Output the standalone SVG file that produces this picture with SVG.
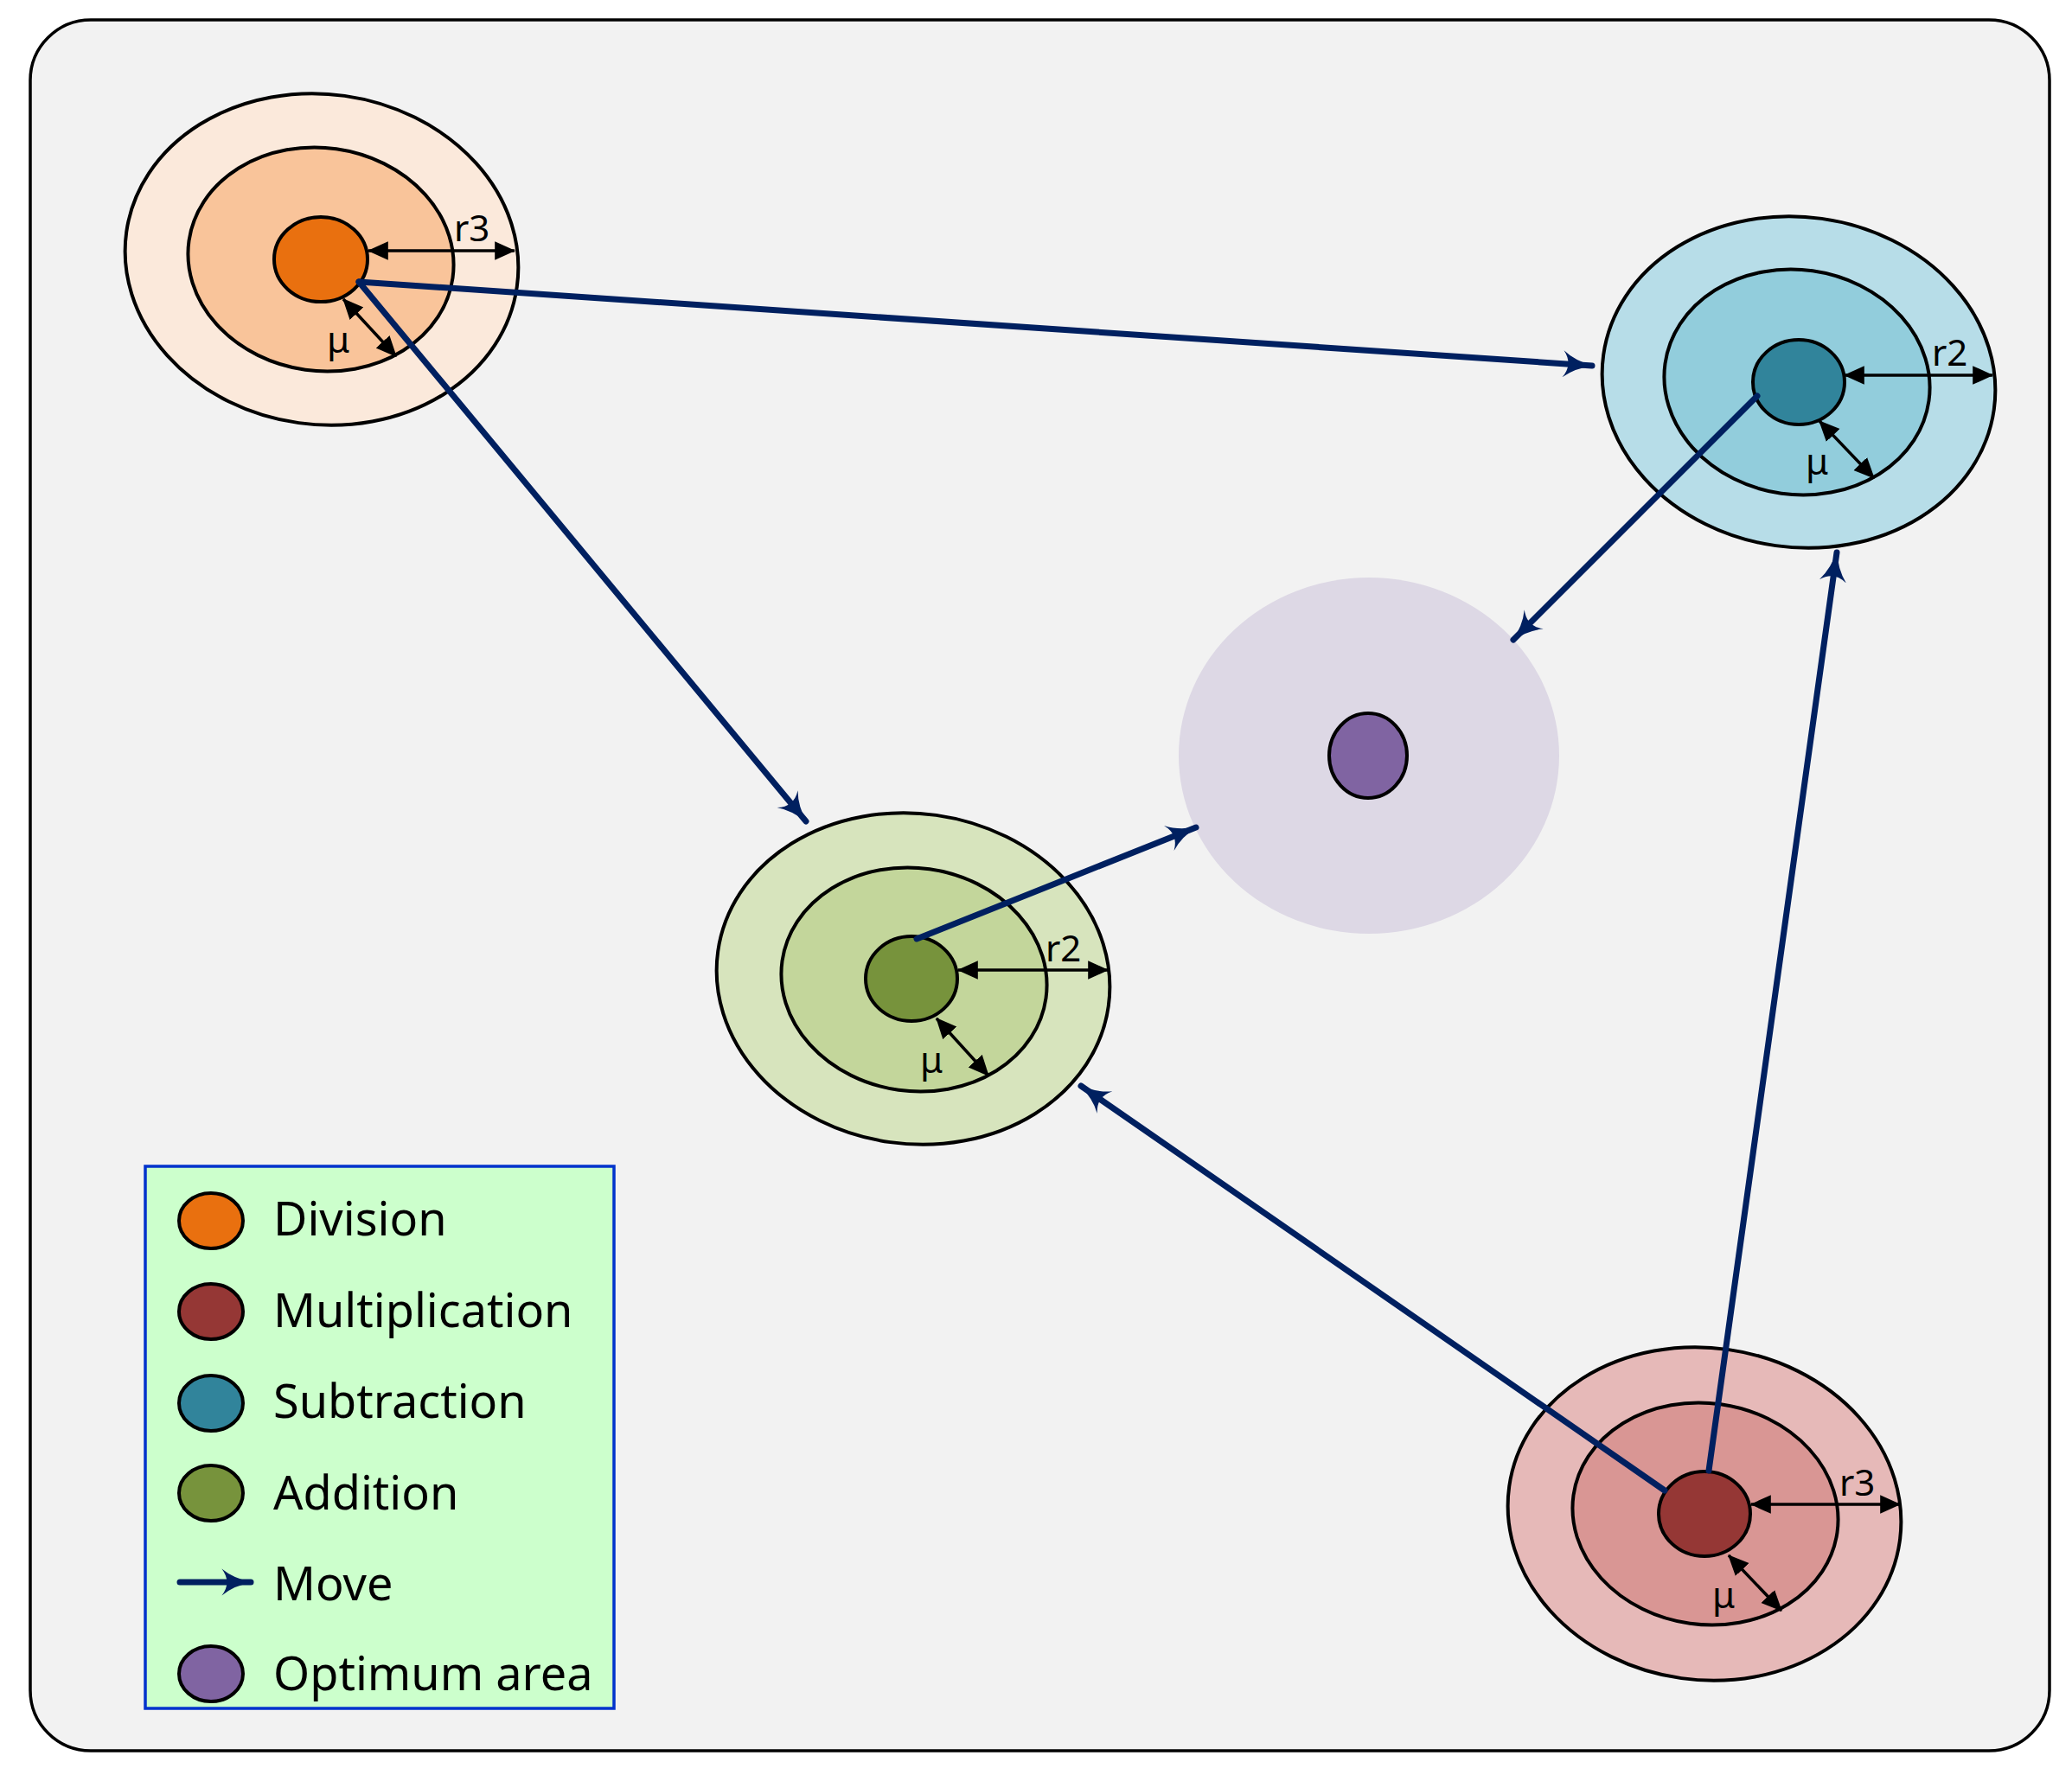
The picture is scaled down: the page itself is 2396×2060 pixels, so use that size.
<svg xmlns="http://www.w3.org/2000/svg" width="2396" height="2060" viewBox="0 0 2396 2060">
<style>
.ln{stroke:#000;stroke-width:4}
.dim{stroke:#000;stroke-width:3.5;fill:none;marker-start:url(#ah);marker-end:url(#ah)}
.mv{stroke:#002060;stroke-width:7;fill:none;marker-end:url(#stealth);stroke-linecap:round}
.lab{font-family:"Noto Sans","Open Sans",sans-serif;font-size:42px;fill:#000}
.leg{font-family:"Noto Sans","Open Sans",sans-serif;font-size:54px;fill:#000}
</style>
<defs>
<marker id="ah" markerUnits="userSpaceOnUse" markerWidth="24" markerHeight="24" viewBox="0 0 20 20" refX="19" refY="10" orient="auto-start-reverse"><path d="M0,1 L20,10 L0,19 Z" fill="#000"/></marker>
<marker id="stealth" markerUnits="userSpaceOnUse" markerWidth="36" markerHeight="36" viewBox="0 0 30 30" refX="28" refY="15" orient="auto"><path d="M0,2 Q10,15 0,28 Q12,18 30,15 Q12,12 0,2 Z" fill="#002060"/></marker>
</defs>
<rect x="35" y="23" width="2335" height="2002" rx="70" fill="#f2f2f2" stroke="#000" stroke-width="3.5"/>

<g id="optimum">
<ellipse cx="1583" cy="874" rx="220" ry="206" fill="#ddd8e5"/>
<ellipse cx="1582" cy="874" rx="45" ry="49" fill="#8064a2" class="ln"/>
</g>

<g id="division">
<ellipse cx="372" cy="300" rx="228" ry="191" transform="rotate(8 372 300)" fill="#fbe9db" class="ln"/>
<ellipse cx="371" cy="300" rx="154" ry="129" transform="rotate(8 371 300)" fill="#f9c49a" class="ln"/>
<ellipse cx="371" cy="300" rx="54" ry="49" fill="#e9700f" class="ln"/>
<line x1="426" y1="290" x2="595" y2="290" class="dim"/>
<text x="525" y="279" class="lab">r3</text>
<line x1="397" y1="346" x2="458" y2="412" class="dim"/>
<text x="378" y="408" class="lab">μ</text>
</g>

<g id="subtraction">
<ellipse cx="2080" cy="442" rx="228" ry="191" transform="rotate(8 2080 442)" fill="#b7dde8" class="ln"/>
<ellipse cx="2078" cy="442" rx="154" ry="130" transform="rotate(8 2078 442)" fill="#92cddc" class="ln"/>
<ellipse cx="2080" cy="442" rx="53" ry="49" fill="#31849b" class="ln"/>
<line x1="2133" y1="434" x2="2304" y2="434" class="dim"/>
<text x="2234" y="423" class="lab">r2</text>
<line x1="2104" y1="487" x2="2167" y2="553" class="dim"/>
<text x="2088" y="549" class="lab">μ</text>
</g>

<g id="addition">
<ellipse cx="1056" cy="1132" rx="228" ry="191" transform="rotate(8 1056 1132)" fill="#d7e4bd" class="ln"/>
<ellipse cx="1057" cy="1133" rx="154" ry="129" transform="rotate(8 1057 1133)" fill="#c3d69b" class="ln"/>
<ellipse cx="1054" cy="1132" rx="53" ry="49" fill="#77933c" class="ln"/>
<line x1="1108" y1="1122" x2="1281" y2="1122" class="dim"/>
<text x="1209" y="1112" class="lab">r2</text>
<line x1="1083" y1="1178" x2="1143" y2="1244" class="dim"/>
<text x="1064" y="1241" class="lab">μ</text>
</g>

<g id="multiplication">
<ellipse cx="1971" cy="1751" rx="228" ry="192" transform="rotate(8 1971 1751)" fill="#e6b9b8" class="ln"/>
<ellipse cx="1972" cy="1751" rx="154" ry="128" transform="rotate(8 1972 1751)" fill="#d99694" class="ln"/>
<ellipse cx="1971" cy="1751" rx="53" ry="49" fill="#953735" class="ln"/>
<line x1="2025" y1="1740" x2="2197" y2="1740" class="dim"/>
<text x="2127" y="1730" class="lab">r3</text>
<line x1="1999" y1="1799" x2="2060" y2="1863" class="dim"/>
<text x="1980" y="1860" class="lab">μ</text>
</g>

<g id="connectors">
<line x1="415" y1="326" x2="1841" y2="423" class="mv"/>
<line x1="415" y1="326" x2="932" y2="950" class="mv"/>
<line x1="2032" y1="458" x2="1750" y2="740" class="mv"/>
<line x1="1060" y1="1086" x2="1383" y2="957" class="mv"/>
<line x1="1925" y1="1724" x2="1250" y2="1256" class="mv"/>
<line x1="1976" y1="1701" x2="2124" y2="639" class="mv"/>
</g>

<g id="legend">
<rect x="168" y="1349" width="542" height="627" fill="#ccffcc" stroke="#0033cc" stroke-width="3.5"/>
<ellipse cx="244" cy="1412" rx="37" ry="32" fill="#e9700f" class="ln"/>
<text x="316" y="1429" class="leg">Division</text>
<ellipse cx="244" cy="1517" rx="37" ry="32" fill="#953735" class="ln"/>
<text x="316" y="1535" class="leg">Multiplication</text>
<ellipse cx="244" cy="1623" rx="37" ry="32" fill="#31849b" class="ln"/>
<text x="316" y="1640" class="leg">Subtraction</text>
<ellipse cx="244" cy="1727" rx="37" ry="32" fill="#77933c" class="ln"/>
<text x="316" y="1746" class="leg">Addition</text>
<line x1="208" y1="1830" x2="290" y2="1830" class="mv"/>
<text x="316" y="1851" class="leg">Move</text>
<ellipse cx="244" cy="1936" rx="37" ry="32" fill="#8064a2" class="ln"/>
<text x="316" y="1955" class="leg">Optimum area</text>
</g>
</svg>
